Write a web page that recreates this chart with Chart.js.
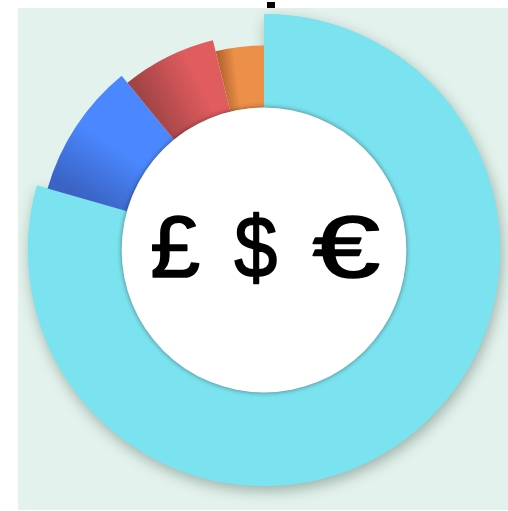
<!DOCTYPE html>
<html><head><meta charset="utf-8">
<script src="https://cdn.jsdelivr.net/npm/chart.js@4"></script>
<style>
html,body{margin:0;padding:0;background:#fff;width:508px;height:511px;overflow:hidden}
#wrap{position:absolute;left:18px;top:8px;width:490px;height:502px;background:#e3f2ec}
#dot{position:absolute;left:267px;top:2px;width:8px;height:7px;background:#000}
canvas{display:block}
</style></head><body>
<div id="dot"></div>
<div id="wrap"><canvas id="c" width="490" height="502"></canvas></div>
<script>
// ---- data ----
const categories = ['A', 'B', 'C', 'D'];
const values = [79.4, 9.7, 7.1, 3.8];
const centerLabel = '£ $ €';

// ---- styles ----
const baseColors = ['#7be3ef', '#4b88ff', '#e05c5e', '#eb8f49'];
const darkColors = [null, '#3a63c4', '#a24446', '#b7662e'];
const darkStop = [0, 0.55, 0.7, 0.35];
const sliceOuterRadius = [236, 225, 216, 204.5];
const glyphOffsetX = [-88.2, -8.7, 81.5];
const glyphScaleX = [1.02, 0.88, 1.38];

function sliceFill(ctx) {
  const i = ctx.dataIndex;
  const chart = ctx.chart;
  const area = chart.chartArea;
  if (!area || !darkColors[i]) return baseColors[i];
  const cx = (area.left + area.right) / 2, cy = (area.top + area.bottom) / 2;
  const data = ctx.dataset.data;
  const total = data.reduce((a, b) => a + b, 0);
  let cum = 0; for (let k = 0; k < i; k++) cum += data[k];
  const a0 = -Math.PI / 2 + 2 * Math.PI * cum / total;
  const a1 = a0 + 2 * Math.PI * data[i] / total;
  const r = 185;
  const g = chart.ctx.createLinearGradient(cx + r * Math.cos(a0), cy + r * Math.sin(a0), cx + r * Math.cos(a1), cy + r * Math.sin(a1));
  g.addColorStop(0, darkColors[i]);
  g.addColorStop(darkStop[i], baseColors[i]);
  g.addColorStop(1, baseColors[i]);
  return g;
}

const decorPlugin = {
  id: 'decor',
  afterDatasetUpdate(chart, args) {
    args.meta.data.forEach((el, i) => { el.outerRadius = sliceOuterRadius[i]; });
  },
  beforeDatasetDraw(chart, args) {
    const el = args.meta.data[0];
    const ctx = chart.ctx;
    ctx.save();
    ctx.shadowColor = 'rgba(40,70,60,0.38)';
    ctx.shadowBlur = 14;
    ctx.shadowOffsetX = 2;
    ctx.shadowOffsetY = 5;
    el.draw(ctx, chart.chartArea);
    ctx.restore();
  },
  afterDatasetsDraw(chart) {
    const el = chart.getDatasetMeta(0).data[0];
    const ctx = chart.ctx;
    ctx.save();
    ctx.shadowColor = 'rgba(0,0,0,0.45)';
    ctx.shadowBlur = 5;
    ctx.beginPath();
    ctx.arc(el.x, el.y, el.innerRadius, 0, Math.PI * 2);
    ctx.fillStyle = '#ffffff';
    ctx.fill();
    ctx.restore();

    ctx.save();
    ctx.fillStyle = '#000';
    ctx.strokeStyle = '#000';
    ctx.lineWidth = 1.6;
    ctx.lineJoin = 'round';
    ctx.font = '88px "Liberation Sans", Arial, sans-serif';
    ctx.textAlign = 'left';
    ctx.textBaseline = 'alphabetic';
    const parts = centerLabel.split(' ');
    parts.forEach((p, k) => {
      const m = ctx.measureText(p);
      const half = (m.actualBoundingBoxRight - m.actualBoundingBoxLeft) / 2;
      ctx.save();
      ctx.translate(el.x + glyphOffsetX[k], el.y + 26.5);
      ctx.scale(glyphScaleX[k], 1);
      ctx.fillText(p, -half, 0);
      ctx.strokeText(p, -half, 0);
      ctx.restore();
    });
    ctx.restore();
  }
};

new Chart(document.getElementById('c'), {
  type: 'doughnut',
  data: {
    labels: categories,
    datasets: [{
      data: values,
      backgroundColor: sliceFill,
      borderWidth: 0,
      hoverOffset: 0
    }]
  },
  options: {
    responsive: false,
    animation: false,
    events: [],
    radius: 236,
    cutout: 146,
    layout: { padding: { left: 2, right: 0, top: 0, bottom: 18 } },
    plugins: { legend: { display: false }, tooltip: { enabled: false }, title: { display: false } }
  },
  plugins: [decorPlugin]
});
</script>
</body></html>
